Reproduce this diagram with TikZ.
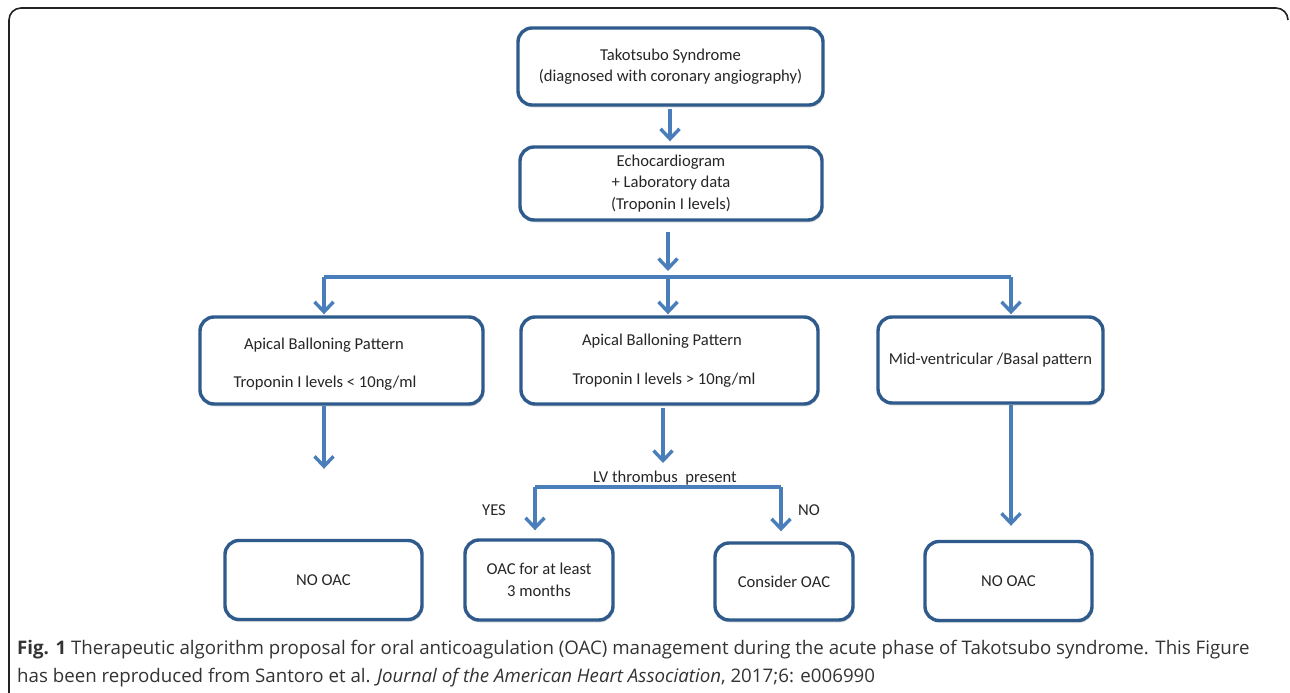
\documentclass[tikz,border=0pt]{standalone}
\usepackage{fontspec}
\setmainfont{Carlito}
\newfontfamily\capfont{Open Sans}
\usetikzlibrary{arrows.meta,shadows}
\definecolor{boxblue}{HTML}{2F5A8C}
\definecolor{arrblue}{HTML}{4A7EBB}
\definecolor{captxt}{HTML}{333333}
\definecolor{framecol}{HTML}{222222}
\begin{document}
\begin{tikzpicture}[x=1pt,y=-1pt,
  box/.style={draw=boxblue, line width=3.4pt, rounded corners=14pt, fill=white,
    drop shadow={opacity=0.25, shadow xshift=1pt, shadow yshift=-2.5pt},
    inner sep=0pt, align=center, font=\fontsize{16.6}{21.5}\selectfont, text=black!85},
  txt/.style={inner sep=0pt, font=\fontsize{16.6}{21.5}\selectfont, text=black!85},
  conn/.style={draw=arrblue, line width=3.4pt},
  arr/.style={conn, -{Straight Barb[length=10pt,width=19pt]}},
  captext/.style={inner sep=0pt, anchor=west, text=captxt, font=\capfont\fontsize{18.7}{28}\selectfont}
]
\useasboundingbox (0,0) rectangle (1290,693);
% outer frame
\draw[framecol, line width=1.6pt, rounded corners=12pt] (9,700) -- (9,8) -- (1288,8) -- (1288,20);

% row 1 and 2
\node[box, minimum width=305pt, minimum height=77pt] (b1) at (670.5,66.5)
  {Takotsubo Syndrome\\ (diagnosed with coronary angiography)};
\node[box, minimum width=302pt, minimum height=73pt] (b2) at (671,183.5)
  {Echocardiogram\\ + Laboratory data\\ (Troponin I levels)};

% row 3
\node[box, minimum width=283pt, minimum height=87pt] (b3) at (341.5,360.5) {};
\node[txt] (t3a) at (324,345) {Apical Balloning Pattern};
\node[txt] (t3b) at (325,383) {Troponin I levels < 10ng/ml};
\node[box, minimum width=297pt, minimum height=87pt] (b4) at (669.5,360.5) {};
\node[txt] (t4a) at (662,341) {Apical Balloning Pattern};
\node[txt] (t4b) at (664,380) {Troponin I levels > 10ng/ml};
\node[box, minimum width=225pt, minimum height=86pt] (b5) at (990.5,360)
  {Mid-ventricular /Basal pattern};

% row 4
\node[box, minimum width=197pt, minimum height=79pt] (b6) at (323.5,580) {NO OAC};
\node[box, minimum width=148pt, minimum height=80pt] (b7) at (539,580)
  {OAC for at least\\ 3 months};
\node[box, minimum width=138pt, minimum height=77pt] (b8) at (784,581.5) {Consider OAC};
\node[box, minimum width=167pt, minimum height=79pt] (b9) at (1008.5,581) {NO OAC};

% labels
\node[txt] (lv) at (665,478) {LV thrombus\ \ present};
\node[txt] (yes) at (494,510) {YES};
\node[txt] (no) at (809,510) {NO};

% connectors
\coordinate (j1) at (668,277);
\coordinate (jl) at (324,277);
\coordinate (jr) at (1011,277);
\coordinate (j2) at (535,487);
\coordinate (j3) at (781,487);

\draw[arr, shorten <=2pt, shorten >=4pt] (b1.south -| 670,0) -- (b2.north -| 670,0);
\draw[arr, shorten <=10pt, shorten >=6pt] (b2.south -| j1) -- (j1);
\draw[conn] (jl) -- (jr);
\draw[arr, shorten >=1pt] (jl) -- (b3.north -| jl);
\draw[arr, shorten >=1pt] (j1) -- (b4.north -| j1);
\draw[arr, shorten >=1pt] (jr) -- (b5.north -| jr);
\draw[arr, shorten >=70pt] (b3.south -| jl) -- (b6.north -| jl);
\draw[arr, shorten >=14pt] (b5.south -| jr) -- (b9.north -| jr);
\draw[arr, shorten <=2pt] (b4.south -| 663,0) -- (663,463);
\draw[conn] (j2) -- (j3);
\draw[arr, shorten >=8pt] (j2) -- (b7.north -| j2);
\draw[arr, shorten >=10pt] (j3) -- (b8.north -| j3);

% caption
\node[captext] (c1) at (17,650) {\textbf{Fig. 1} Therapeutic algorithm proposal for oral anticoagulation (OAC) management during the acute phase of Takotsubo syndrome. This Figure};
\node[captext] (c2) at (17,678) {has been reproduced from Santoro et al. \textit{Journal of the American Heart Association}, 2017;6: e006990};
\end{tikzpicture}
\end{document}
